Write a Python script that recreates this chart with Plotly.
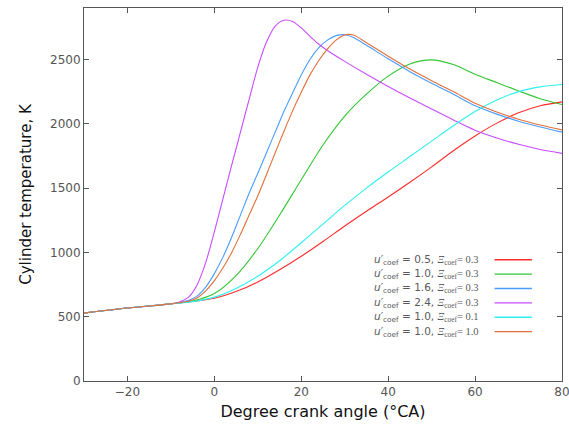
import plotly.graph_objects as go

# Crank angle (deg CA) and in-cylinder temperature (K) for each case
ca_u05_x03 = [-30, -20, -10, -5, 0, 5, 10, 15, 20, 25, 30, 35, 40, 45, 50, 55, 60, 65, 70, 75, 80]
t_u05_x03 = [528, 567, 600, 618, 643, 695, 770, 865, 970, 1085, 1205, 1320, 1430, 1545, 1665, 1790, 1905, 2005, 2085, 2140, 2170]

ca_u10_x03 = [-30, -20, -10, -5, 0, 5, 10, 15, 20, 25, 30, 35, 40, 45, 50, 55, 60, 65, 70, 75, 80]
t_u10_x03 = [528, 567, 600, 622, 680, 820, 1030, 1290, 1565, 1835, 2060, 2230, 2370, 2465, 2497, 2460, 2385, 2320, 2255, 2195, 2150]

ca_u16_x03 = [-30, -20, -10, -8, -6, -4, -2, 0, 2, 4, 6, 8, 10, 12, 14, 16, 18, 20, 22, 24, 26, 28, 30, 32,
              35, 40, 45, 50, 55, 60, 65, 70, 75, 80]
t_u16_x03 = [528, 567, 600, 610, 625, 660, 730, 835, 965, 1120, 1290, 1460, 1615, 1775, 1935, 2095, 2240, 2380,
             2500, 2590, 2650, 2685, 2692, 2670, 2610, 2505, 2405, 2315, 2230, 2140, 2075, 2020, 1975, 1935]

ca_u24_x03 = [-30, -20, -10, -8, -6, -4, -2, 0, 2, 4, 6, 8, 10, 12, 14, 16, 18, 20, 22, 24, 26, 30, 35, 40, 45,
              50, 55, 60, 65, 70, 75, 80]
t_u24_x03 = [528, 567, 600, 615, 650, 745, 920, 1160, 1420, 1680, 1935, 2190, 2440, 2635, 2760, 2805, 2795, 2745,
             2680, 2620, 2570, 2485, 2385, 2290, 2200, 2115, 2030, 1950, 1890, 1840, 1800, 1770]

ca_u10_x01 = [-30, -20, -10, -5, 0, 5, 10, 15, 20, 25, 30, 35, 40, 45, 50, 55, 60, 65, 70, 75, 80]
t_u10_x01 = [528, 567, 600, 617, 652, 720, 815, 935, 1075, 1220, 1365, 1500, 1625, 1745, 1865, 1985, 2095, 2185, 2250, 2287, 2305]

ca_u10_x10 = [-30, -20, -10, -8, -6, -4, -2, 0, 2, 4, 6, 8, 10, 12, 14, 16, 18, 20, 22, 24, 26, 28, 30, 32,
              35, 40, 45, 50, 55, 60, 65, 70, 75, 80]
t_u10_x10 = [528, 567, 600, 610, 620, 645, 700, 780, 880, 1000, 1140, 1290, 1440, 1605, 1775, 1940, 2100, 2245,
             2380, 2490, 2580, 2650, 2690, 2690, 2630, 2525, 2425, 2335, 2250, 2160, 2092, 2035, 1990, 1952]

u_coef = ["0.5", "1.0", "1.6", "2.4", "1.0", "1.0"]
xi_coef = ["0.3", "0.3", "0.3", "0.3", "0.1", "1.0"]
colors = ["#ff2a2a", "#33c633", "#4a9cff", "#c84cff", "#2ef0f0", "#e0703a"]

series = [
    (ca_u05_x03, t_u05_x03),
    (ca_u10_x03, t_u10_x03),
    (ca_u16_x03, t_u16_x03),
    (ca_u24_x03, t_u24_x03),
    (ca_u10_x01, t_u10_x01),
    (ca_u10_x10, t_u10_x10),
]

fig = go.Figure()
for (ca, temp), col in zip(series, colors):
    fig.add_trace(go.Scatter(
        x=ca, y=temp, mode="lines",
        line=dict(color=col, width=1.1, shape="spline", smoothing=0.8),
        showlegend=False,
    ))

# Key drawn inside the plot, text to the left of the line sample
row_y0 = 0.325
row_dy = 0.0385
for i, (u, xi, col) in enumerate(zip(u_coef, xi_coef, colors)):
    yy = row_y0 - i * row_dy
    label = (f"<i>u′</i><sub>coef</sub> = {u}, "
             f"<span style='font-family:Liberation Serif'><i>Ξ</i><sub>coef</sub>= {xi}</span>")
    fig.add_annotation(
        xref="paper", yref="paper", x=0.83, y=yy,
        text=label, showarrow=False, xanchor="right", yanchor="middle",
        font=dict(family="DejaVu Sans", size=10.5, color="#5a5a5a"),
    )
    fig.add_shape(
        type="line", xref="paper", yref="paper",
        x0=0.859, x1=0.937, y0=yy, y1=yy,
        line=dict(color=col, width=1.4),
    )

axis_common = dict(
    showline=True, linecolor="#555555", linewidth=1, mirror="ticks",
    ticks="inside", ticklen=5, tickcolor="#555555",
    showgrid=False, zeroline=False, ticklabeloverflow="allow", automargin=False,
    tickfont=dict(family="DejaVu Sans", size=12, color="#555555"),
)

fig.update_xaxes(
    range=[-30, 80], dtick=20, tick0=0,
    title=dict(text="Degree crank angle (°CA)", standoff=7,
               font=dict(family="DejaVu Sans", size=16, color="#111111")),
    **axis_common,
)
fig.update_yaxes(
    range=[0, 2900], dtick=500, tick0=0,
    title=dict(text="Cylinder temperature, K", standoff=14,
               font=dict(family="DejaVu Sans", size=15, color="#111111")),
    **axis_common,
)

fig.update_layout(
    width=569, height=428,
    margin=dict(l=84, r=7, t=8, b=47, autoexpand=False),
    paper_bgcolor="white", plot_bgcolor="white",
)

fig.write_html("out.html")
